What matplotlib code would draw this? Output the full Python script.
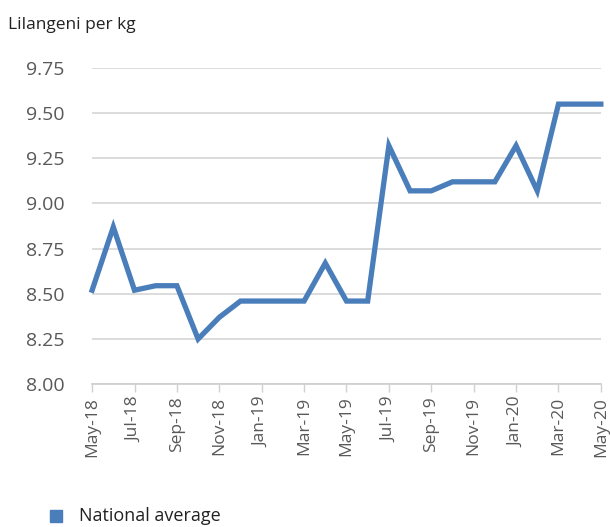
import numpy as np
import matplotlib.pyplot as plt
from matplotlib.patches import Rectangle

plt.rcParams['font.family'] = ['Open Sans', 'DejaVu Sans']

months = ['May-18', 'Jun-18', 'Jul-18', 'Aug-18', 'Sep-18', 'Oct-18', 'Nov-18',
          'Dec-18', 'Jan-19', 'Feb-19', 'Mar-19', 'Apr-19', 'May-19', 'Jun-19',
          'Jul-19', 'Aug-19', 'Sep-19', 'Oct-19', 'Nov-19', 'Dec-19', 'Jan-20',
          'Feb-20', 'Mar-20', 'Apr-20', 'May-20']
national_avg = [8.52, 8.87, 8.52, 8.545, 8.545, 8.25, 8.37, 8.46, 8.46, 8.46,
                8.46, 8.67, 8.46, 8.46, 9.32, 9.07, 9.07, 9.12, 9.12, 9.12,
                9.32, 9.07, 9.55, 9.55, 9.55]
y_ticks = [8.00, 8.25, 8.50, 8.75, 9.00, 9.25, 9.50, 9.75]

blue = '#4a7ebb'
grey_txt = '#595959'

fig = plt.figure(figsize=(6.10, 5.27), dpi=100)
ax = fig.add_axes([0.151, 0.271, 0.834, 0.600])

x = np.arange(len(months))
ax.plot(x, national_avg, color=blue, lw=3.8, solid_joinstyle='miter', clip_on=False)

ax.set_xlim(0, len(months) - 1)
ax.set_ylim(8.0, 9.75)
ax.set_yticks(y_ticks)
ax.set_yticklabels([f'{v:.2f}' for v in y_ticks], fontsize=14, color=grey_txt)
ax.yaxis.grid(True, color='#d9d9d9', lw=1.3)
ax.set_axisbelow(True)
ax.tick_params(axis='y', length=0, pad=20)

ax.set_xticks(x[::2])
ax.set_xticklabels(months[::2], rotation=90, fontsize=12.5, color=grey_txt)
ax.tick_params(axis='x', length=6, width=1, color='#d0d0d0', direction='out', pad=3)

for s in ['top', 'right', 'left']:
    ax.spines[s].set_visible(False)
ax.spines['bottom'].set_color('#d0d0d0')
ax.spines['bottom'].set_linewidth(1.3)

fig.text(8 / 610, 1 - 25 / 527, 'Lilangeni per kg', fontsize=12.5, color='#222222', va='center')

fig.patches.append(Rectangle((50 / 610, 1 - 522 / 527), 12 / 610, 12 / 527,
                             transform=fig.transFigure, color=blue))
fig.text(79 / 610, 1 - 516 / 527, 'National average', fontsize=13, color='#222222', va='center')

fig.savefig('out.png', dpi=100)
